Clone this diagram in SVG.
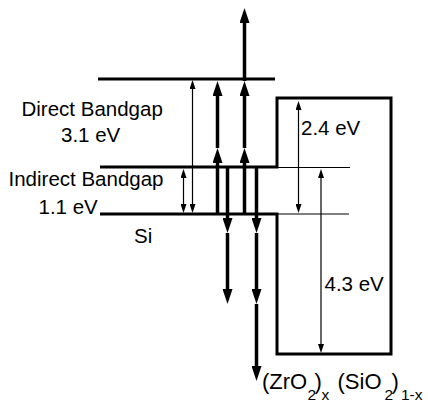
<svg xmlns="http://www.w3.org/2000/svg" width="428" height="402" viewBox="0 0 428 402">
<style>
.lvl{fill:none;stroke:#000;stroke-width:3;stroke-linejoin:miter}
.thin{fill:none;stroke:#000;stroke-width:1.2}
.thick{fill:none;stroke:#000;stroke-width:3.5}
.lbl{font-family:"Liberation Sans",Arial,sans-serif;font-size:20.5px;fill:#000}
.frm{font-family:"Liberation Sans",Arial,sans-serif;font-size:22px;fill:#000}
.sub{font-size:15.5px}
</style>
<defs>
<marker id="hd" viewBox="0 0 15 10" markerUnits="userSpaceOnUse" markerWidth="15" markerHeight="10" refX="7" refY="5" orient="auto">
<path d="M0,0 L15,5 L0,10 z" fill="#000"/>
</marker>
<marker id="hs" viewBox="0 0 9 6" markerUnits="userSpaceOnUse" markerWidth="9" markerHeight="6" refX="3" refY="3" orient="auto-start-reverse">
<path d="M0,0 L9,3 L0,6 z" fill="#000"/>
</marker>
</defs>
<rect width="428" height="402" fill="#fff"/>
<g id="si-levels">
<path class="lvl" d="M98,79 H275"/>
</g>
<g id="oxide-box">
<path class="lvl" d="M100,167 H277 V98 H391 V354 H277 V214 H100"/>
<path class="thin" d="M277,167.5 H350 M277,214 H349"/>
</g>
<g id="connectors">
<path class="thin" d="M192.5,86 V207" marker-start="url(#hs)" marker-end="url(#hs)"/>
<path class="thin" d="M183.5,175 V207" marker-start="url(#hs)" marker-end="url(#hs)"/>
<path class="thin" d="M298.5,107 V207" marker-start="url(#hs)" marker-end="url(#hs)"/>
<path class="thin" d="M321,175 V347" marker-start="url(#hs)" marker-end="url(#hs)"/>
<path class="thick" d="M217.5,214 V156" marker-end="url(#hd)"/>
<path class="thick" d="M217.5,148 V89" marker-end="url(#hd)"/>
<path class="thick" d="M244.5,214 V156" marker-end="url(#hd)"/>
<path class="thick" d="M244.5,148 V89" marker-end="url(#hd)"/>
<path class="thick" d="M244.5,81 V16" marker-end="url(#hd)"/>
<path class="thick" d="M227.5,167 V225" marker-end="url(#hd)"/>
<path class="thick" d="M227.5,233 V296" marker-end="url(#hd)"/>
<path class="thick" d="M256.5,167 V225" marker-end="url(#hd)"/>
<path class="thick" d="M256.5,233 V296" marker-end="url(#hd)"/>
<path class="thick" d="M256.5,304 V373" marker-end="url(#hd)"/>
</g>
<g id="labels">
<text class="lbl" x="21.5" y="116">Direct Bandgap</text>
<text class="lbl" x="61" y="141.5">3.1 eV</text>
<text class="lbl" x="8.5" y="186">Indirect Bandgap</text>
<text class="lbl" x="38.5" y="214">1.1 eV</text>
<text class="lbl" x="134" y="243">Si</text>
<text class="lbl" x="301" y="135">2.4 eV</text>
<text class="lbl" x="324.5" y="291">4.3 eV</text>
<text class="frm" x="262" y="389">(ZrO<tspan class="sub" x="307.5" y="400">2</tspan><tspan x="314.5" y="389">)</tspan><tspan class="sub" x="321.5" y="400">x</tspan><tspan x="337.5" y="389">(SiO</tspan><tspan class="sub" x="384.5" y="400">2</tspan><tspan x="391.5" y="389">)</tspan><tspan class="sub" x="401" y="400">1-x</tspan></text>
</g>
</svg>
